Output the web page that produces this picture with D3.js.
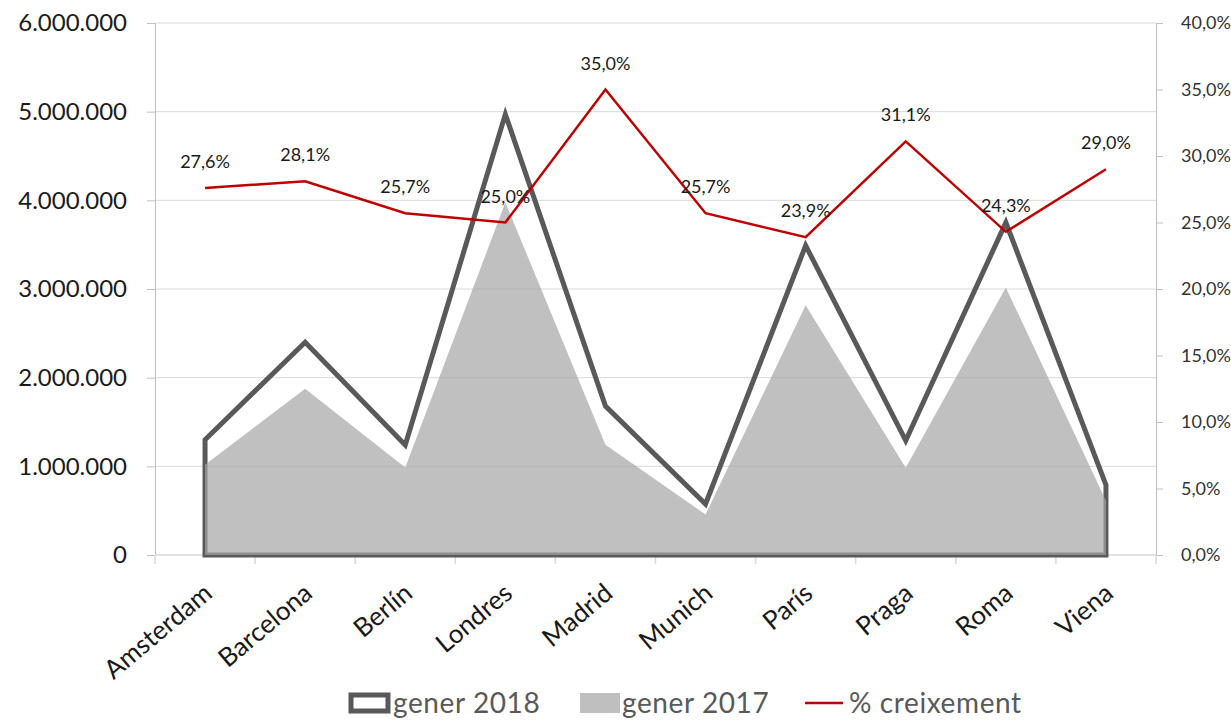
<!DOCTYPE html>
<html>
<head>
<meta charset="utf-8">
<script src="https://cdn.jsdelivr.net/npm/d3@7"></script>
<style>
  html, body { margin: 0; padding: 0; background: #fff; }
  svg { display: block; }
  text { font-family: Lato, "Open Sans", sans-serif; }
</style>
</head>
<body>
<svg id="chart" width="1231" height="720"></svg>
<script>
// Passengers per city (2018 vs 2017) and growth rate
const cities = ["Amsterdam", "Barcelona", "Berlín", "Londres", "Madrid", "Munich", "París", "Praga", "Roma", "Viena"];
const gener2018 = [1300000, 2400000, 1240000, 4970000, 1680000, 575000, 3490000, 1290000, 3750000, 790000];
const gener2017 = [1019000, 1874000, 987000, 3976000, 1244000, 457000, 2817000, 984000, 3017000, 612000];
const creixement = [0.276, 0.281, 0.257, 0.250, 0.350, 0.257, 0.239, 0.311, 0.243, 0.290];
const leftTicks = [0, 1000000, 2000000, 3000000, 4000000, 5000000, 6000000];
const rightTicks = [0, 0.05, 0.10, 0.15, 0.20, 0.25, 0.30, 0.35, 0.40];
const legendLabels = ["gener 2018", "gener 2017", "% creixement"];

const loc = d3.formatLocale({ decimal: ",", thousands: ".", grouping: [3], currency: ["", "€"] });
const fmtInt = loc.format(",d");
const fmtPct = loc.format(".1%");

const svg = d3.select("#chart");
const L = 155, R = 1156, T = 23, B = 555;

const x = d3.scaleBand().domain(cities).range([L, R]).padding(0);
const cx = d => x(d) + x.bandwidth() / 2;
const yL = d3.scaleLinear().domain([0, 6000000]).range([B, T]);
const yR = d3.scaleLinear().domain([0, 0.4]).range([B, T]);

// horizontal gridlines
svg.append("g").selectAll("line").data(leftTicks.slice(1)).join("line")
  .attr("x1", L).attr("x2", R)
  .attr("y1", d => yL(d)).attr("y2", d => yL(d))
  .attr("stroke", "#d9d9d9").attr("stroke-width", 1);

// left axis
const gL = svg.append("g").attr("transform", `translate(${L},0)`)
  .call(d3.axisLeft(yL).tickValues(leftTicks).tickFormat(fmtInt).tickSize(8).tickPadding(20));
gL.select(".domain").attr("stroke", "#bfbfbf");
gL.selectAll(".tick line").attr("stroke", "#bfbfbf");
gL.selectAll(".tick text").attr("font-size", 24).attr("fill", "#1a1a1a");

// right axis
const gR = svg.append("g").attr("transform", `translate(${R},0)`)
  .call(d3.axisRight(yR).tickValues(rightTicks).tickFormat(fmtPct).tickSize(7).tickPadding(18));
gR.select(".domain").attr("stroke", "#bfbfbf");
gR.selectAll(".tick line").attr("stroke", "#bfbfbf");
gR.selectAll(".tick text").attr("font-size", 18).attr("fill", "#333");

// bottom axis: tick marks at category boundaries
const bounds = cities.map(c => x(c)).concat([R]);
svg.append("line").attr("x1", L).attr("x2", R).attr("y1", B).attr("y2", B)
  .attr("stroke", "#d9d9d9").attr("stroke-width", 1.5);
svg.append("g").selectAll("line").data(bounds).join("line")
  .attr("x1", d => d).attr("x2", d => d).attr("y1", B).attr("y2", B + 9)
  .attr("stroke", "#d9d9d9").attr("stroke-width", 1.5);

// category labels, rotated
svg.append("g").selectAll("text").data(cities).join("text")
  .attr("transform", d => `translate(${cx(d) + 3},${B + 34}) rotate(-40)`)
  .attr("text-anchor", "end")
  .attr("dy", "0.35em")
  .attr("font-size", 26)
  .attr("fill", "#1a1a1a")
  .text(d => d);

// 2018 area outline
const area18 = d3.area().x(d => cx(d.c)).y0(B).y1(d => yL(d.v)).curve(d3.curveLinear);
const pts18 = cities.map((c, i) => ({ c, v: gener2018[i] }));
const pts17 = cities.map((c, i) => ({ c, v: gener2017[i] }));
svg.append("path").datum(pts18).attr("d", area18)
  .attr("fill", "none").attr("stroke", "#595959").attr("stroke-width", 5)
  .attr("stroke-linejoin", "miter");

// 2017 filled area
svg.append("path").datum(pts17).attr("d", area18)
  .attr("fill", "#a5a5a5").attr("fill-opacity", 0.7);

// growth line
const line = d3.line().x((d, i) => cx(cities[i])).y(d => yR(d));
svg.append("path").datum(creixement).attr("d", line)
  .attr("fill", "none").attr("stroke", "#c00000").attr("stroke-width", 2.5);

// growth labels
svg.append("g").selectAll("text").data(creixement).join("text")
  .attr("x", (d, i) => cx(cities[i]))
  .attr("y", d => yR(d) - 20)
  .attr("text-anchor", "middle")
  .attr("font-size", 18)
  .attr("fill", "#1a1a1a")
  .text(d => fmtPct(d));

// legend
const lg = svg.append("g");
const ly = 703;
lg.append("rect").attr("x", 351).attr("y", ly - 8).attr("width", 37).attr("height", 16)
  .attr("fill", "#fff").attr("stroke", "#595959").attr("stroke-width", 5);
lg.append("text").attr("x", 393).attr("y", ly).attr("dy", "0.35em").attr("font-size", 28)
  .attr("letter-spacing", 0.6)
  .attr("fill", "#595959").text(legendLabels[0]);
lg.append("rect").attr("x", 580).attr("y", ly - 10).attr("width", 40).attr("height", 20)
  .attr("fill", "#bfbfbf");
lg.append("text").attr("x", 622).attr("y", ly).attr("dy", "0.35em").attr("font-size", 28)
  .attr("letter-spacing", 0.6)
  .attr("fill", "#595959").text(legendLabels[1]);
lg.append("line").attr("x1", 805).attr("x2", 843).attr("y1", ly).attr("y2", ly)
  .attr("stroke", "#c00000").attr("stroke-width", 2.5);
lg.append("text").attr("x", 849).attr("y", ly).attr("dy", "0.35em").attr("font-size", 28)
  .attr("letter-spacing", 0.6)
  .attr("fill", "#595959").text(legendLabels[2]);
</script>
</body>
</html>
